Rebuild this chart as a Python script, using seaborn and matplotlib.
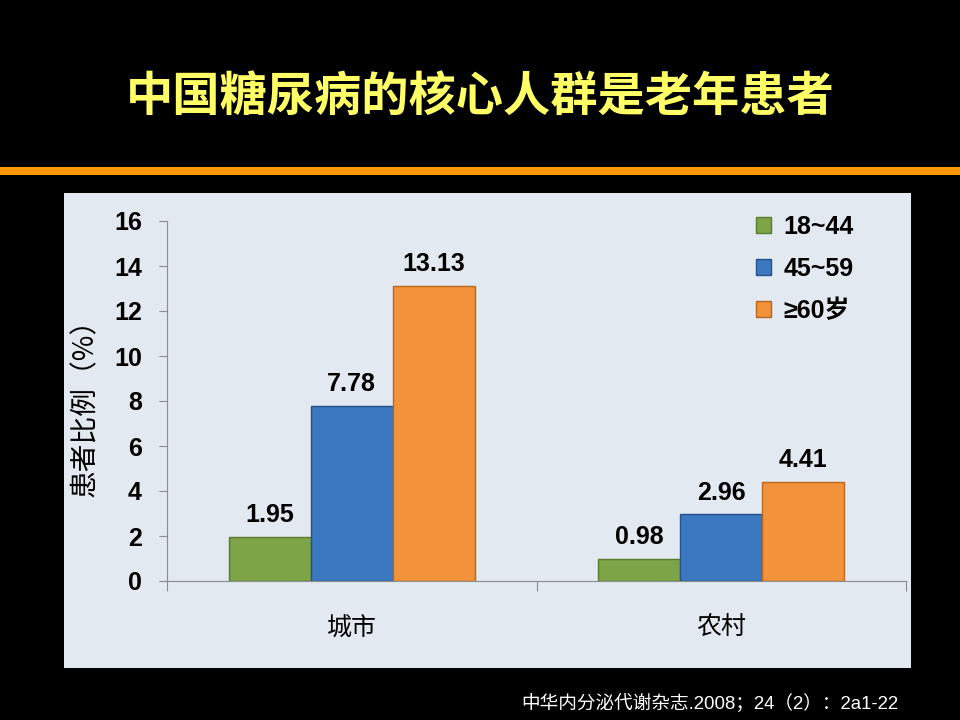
import matplotlib
matplotlib.use("Agg")
import matplotlib.pyplot as plt
from matplotlib.patches import Rectangle
from matplotlib.ticker import FixedLocator
import seaborn as sns
import pandas as pd

# chart data
regions = ['城市', '农村']
age_groups = ['18~44', '45~59', '≥60岁']
rate_18_44 = [1.95, 0.98]
rate_45_59 = [7.78, 2.96]
rate_60_up = [13.13, 4.41]
y_ticks = [0, 2, 4, 6, 8, 10, 12, 14, 16]

title = '中国糖尿病的核心人群是老年患者'
y_label = '患者比例（%）'
source = '中华内分泌代谢杂志.2008；24（2）：2a1-22'

colors = ['#7DA446', '#3B78C0', '#F2923A']
edge_colors = ['#5A7A2C', '#24528A', '#B86620']

sns.set_theme(style='white')
plt.rcParams['font.family'] = ['Noto Sans CJK SC', 'DejaVu Sans']
plt.rcParams['text.color'] = 'black'

num_font = ['Liberation Sans Narrow', 'Liberation Sans', 'Noto Sans CJK SC']

df = pd.DataFrame({
    'region': regions * 3,
    'group': [age_groups[0]] * 2 + [age_groups[1]] * 2 + [age_groups[2]] * 2,
    'value': rate_18_44 + rate_45_59 + rate_60_up,
})

fig = plt.figure(figsize=(9.6, 7.2), dpi=100, facecolor='black')

# orange rule under the title and the light panel
fig.patches.append(Rectangle((0, 1 - 175 / 720), 1, 8 / 720, transform=fig.transFigure,
                             facecolor='#FF9900', edgecolor='none', zorder=0))
fig.patches.append(Rectangle((64 / 960, 1 - 668 / 720), (911 - 64) / 960, (668 - 193) / 720,
                             transform=fig.transFigure, facecolor='#E2E9F0',
                             edgecolor='none', zorder=0))

fig.text(0.5, 1 - 97 / 720, title, ha='center', va='center', color='#FFFF66',
         fontsize=34, fontweight='bold')
fig.text(898 / 960, 1 - 703 / 720, source, ha='right', va='center', color='white',
         fontsize=13.4, family=['Liberation Sans', 'Noto Sans CJK SC'])

ax = fig.add_axes([167 / 960, 1 - 581 / 720, (906 - 167) / 960, 360 / 720])
ax.set_zorder(2)
ax.set_facecolor('none')

sns.barplot(data=df, x='region', y='value', hue='group', hue_order=age_groups,
            palette=colors, width=0.666, saturation=1, ax=ax, zorder=3)

for i, cont in enumerate(ax.containers):
    for bar in cont:
        bar.set_edgecolor(edge_colors[i])
        bar.set_linewidth(1.0)
    ax.bar_label(cont, fmt='%.2f', padding=7, fontsize=18, fontweight='bold',
                 family=num_font, color='black')

ax.set_ylim(0, 16)
ax.set_xlim(-0.5, 1.5)
ax.set_yticks(y_ticks)
ax.set_yticklabels([str(t) for t in y_ticks], fontsize=18, fontweight='bold',
                   family=num_font, color='black')
ax.tick_params(axis='y', length=6, width=0.8, color='#8C8C8C', pad=12, left=True)
ax.set_xticks(range(len(regions)))
ax.set_xticklabels(regions, fontsize=18, color='black')
ax.tick_params(axis='x', which='major', length=0, pad=24)
ax.xaxis.set_minor_locator(FixedLocator([-0.5, 0.5, 1.5]))
ax.tick_params(axis='x', which='minor', length=7, width=0.8, color='#8C8C8C',
               bottom=True, direction='out')

for side in ['top', 'right']:
    ax.spines[side].set_visible(False)
for side in ['left', 'bottom']:
    ax.spines[side].set_color('#8C8C8C')
    ax.spines[side].set_linewidth(0.8)

ax.set_xlabel('')
ax.set_ylabel(y_label, fontsize=20, color='black')
ax.yaxis.label.set_va('center')
ax.yaxis.set_label_coords(-82 / 739, 0.5)

handles, labels = ax.get_legend_handles_labels()
leg = ax.legend(handles, labels, loc='upper left', bbox_to_anchor=(0.767, 1.08),
                frameon=False, handlelength=0.6, handleheight=0.6,
                handletextpad=0.5, labelspacing=0.72, labelcolor='black',
                prop={'family': num_font, 'weight': 'bold', 'size': 18})
for h, ec in zip(leg.legend_handles, edge_colors):
    h.set_edgecolor(ec)

fig.savefig('out.png', dpi=100, facecolor='black')
